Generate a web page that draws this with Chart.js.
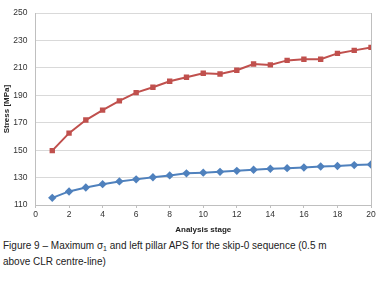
<!DOCTYPE html>
<html>
<head>
<meta charset="utf-8">
<script src="https://cdn.jsdelivr.net/npm/chart.js@4"></script>
<style>
    html, body { margin: 0; padding: 0; background: #fff; }
    #wrap { position: relative; width: 392px; height: 235px; }
    #caption {
        font-family: 'Liberation Sans', Arial, sans-serif;
        font-size: 10px;
        line-height: 16px;
        color: #222;
        margin: 3px 0 0 3px;
        width: 392px;
    }
    #caption sub { font-size: 7px; vertical-align: -2px; line-height: 0; }
</style>
</head>
<body>
<div id="wrap"><canvas id="stress-chart" width="392" height="235"></canvas></div>
<div id="caption">Figure 9 – Maximum σ<sub>1</sub> and left pillar APS for the skip-0 sequence (0.5 m<br>above CLR centre-line)</div>
<script>
// Stress vs analysis stage
const stages = [1, 2, 3, 4, 5, 6, 7, 8, 9, 10, 11, 12, 13, 14, 15, 16, 17, 18, 19, 20];
const maxSigma1 = [149.7, 162.4, 172, 179.2, 186, 192, 195.9, 200.3, 203.2, 206.1, 205.6, 208.3, 212.9, 212.2, 215.5, 216.3, 216.3, 220.6, 222.8, 225];
const pillarAPS = [115.2, 119.9, 122.8, 125.2, 127.2, 128.7, 130.2, 131.6, 133.1, 133.6, 134.2, 134.9, 135.7, 136.4, 136.9, 137.4, 138.1, 138.4, 139.1, 139.6];
const xTicks = [0, 2, 4, 6, 8, 10, 12, 14, 16, 18, 20];
const yTicks = [110, 130, 150, 170, 190, 210, 230, 250];

const tickFont = { family: 'Liberation Sans', size: 8.5 };

function toPoints(values) {
    return stages.map((s, i) => ({ x: s, y: values[i] }));
}

new Chart(document.getElementById('stress-chart').getContext('2d'), {
    type: 'line',
    data: {
        datasets: [
            {
                label: 'Maximum σ1',
                data: toPoints(maxSigma1),
                borderColor: '#C0504D',
                backgroundColor: '#C0504D',
                borderWidth: 2,
                pointStyle: 'rect',
                pointRadius: 3.8,
                pointBorderWidth: 0
            },
            {
                label: 'Left pillar APS',
                data: toPoints(pillarAPS),
                borderColor: '#4F81BD',
                backgroundColor: '#4F81BD',
                borderWidth: 2,
                pointStyle: 'rectRot',
                pointRadius: 4.2,
                pointBorderWidth: 0
            }
        ]
    },
    options: {
        responsive: false,
        animation: false,
        layout: { padding: { top: 13, right: 21, left: 2, bottom: 0 } },
        plugins: { legend: { display: false }, tooltip: { enabled: false } },
        scales: {
            x: {
                type: 'linear',
                min: 0,
                max: 20,
                afterBuildTicks: axis => { axis.ticks = xTicks.map(v => ({ value: v })); },
                afterFit: axis => { axis.height = 30; },
                grid: {
                    display: true,
                    drawOnChartArea: false,
                    drawTicks: true,
                    tickLength: 3,
                    color: '#BFBFBF'
                },
                border: { display: true, color: '#BFBFBF' },
                ticks: { font: tickFont, color: '#333', padding: 2, maxRotation: 0 },
                title: {
                    display: true,
                    text: 'Analysis stage',
                    font: { family: 'Liberation Sans', size: 8, weight: 'bold' },
                    color: '#222',
                    padding: { top: 0, bottom: 0 }
                }
            },
            y: {
                min: 110,
                max: 250,
                afterBuildTicks: axis => { axis.ticks = yTicks.map(v => ({ value: v })); },
                afterFit: axis => { axis.width = 33.5; },
                grid: { color: '#D9D9D9', drawTicks: false },
                border: { display: true, color: '#BFBFBF' },
                ticks: { font: tickFont, color: '#333', padding: 8 },
                title: {
                    display: true,
                    text: 'Stress [MPa]',
                    font: { family: 'Liberation Sans', size: 8, weight: 'bold' },
                    color: '#222',
                    padding: { top: 0, bottom: 0 }
                }
            },
            yRight: {
                position: 'right',
                min: 110,
                max: 250,
                display: true,
                afterFit: axis => { axis.width = 0; },
                grid: { display: false },
                border: { display: true, color: '#BFBFBF' },
                ticks: { display: false }
            }
        }
    }
});
</script>
</body>
</html>
